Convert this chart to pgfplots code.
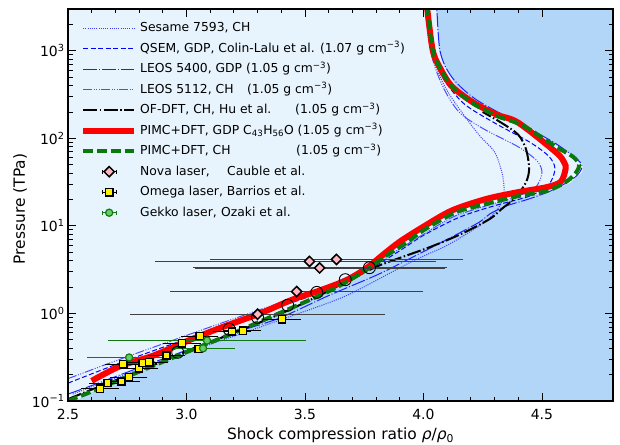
\documentclass[border=0pt]{standalone}
\usepackage{fontspec}
\setmainfont{DejaVu Sans}
\usepackage{pgfplots}
\pgfplotsset{compat=1.18}
\definecolor{lightbg}{RGB}{232,244,253}
\definecolor{darkbg}{RGB}{177,214,247}
\definecolor{pinkc}{RGB}{255,182,193}
\definecolor{gekkofill}{RGB}{102,204,102}
\definecolor{gekkoedge}{RGB}{17,120,17}
\definecolor{pimcgreen}{RGB}{10,120,10}
\definecolor{sesblue}{RGB}{64,64,255}
\definecolor{qsblue}{RGB}{0,0,255}
\definecolor{l54blue}{RGB}{32,32,255}
\definecolor{l51blue}{RGB}{77,77,255}
\pgfplotsset{
  lineleg/.style={legend image code/.code={\draw[##1] (0bp,0bp) -- (51bp,0bp); \path[draw=none,fill=none] (0bp,-3bp) rectangle (57bp,3bp);}},
  markleg/.style n args={4}{legend image code/.code={%
    \draw[#3, line width=1.1bp, solid] (19bp,0bp) -- (33bp,0bp);
    \draw[#3, line width=1.1bp, solid] (19bp,-2bp) -- (19bp,2bp);
    \draw[#3, line width=1.1bp, solid] (33bp,-2bp) -- (33bp,2bp);
    \path[#4] plot coordinates {(26bp,0bp)};
    \path[draw=none,fill=none] (0bp,-3bp) rectangle (57bp,3bp);}},
}
\begin{document}
\begin{tikzpicture}
\begin{axis}[
  scale only axis, width=545bp, height=392bp,
  xmin=2.5, xmax=4.8, ymode=log, ymin=0.1, ymax=3000,
  axis background/.style={fill=lightbg},
  axis on top,
  xtick={2.5,3.0,3.5,4.0,4.5}, xticklabels={2.5,3.0,3.5,4.0,4.5},
  minor x tick num=4,
  ytick={0.1,1,10,100,1000},
  yticklabels={10\textsuperscript{−1},10\textsuperscript{0},10\textsuperscript{1},10\textsuperscript{2},10\textsuperscript{3}},
  minor ytick={0.2,0.3,0.4,0.5,0.6,0.7,0.8,0.9,2,3,4,5,6,7,8,9,20,30,40,50,60,70,80,90,200,300,400,500,600,700,800,900,2000,3000},
  tick align=inside, major tick length=8bp, minor tick length=4.5bp,
  every tick/.style={black, line width=0.8bp},
  axis line style={line width=1.2bp},
  tick label style={font=\fontsize{14}{16}\selectfont},
  xticklabel style={yshift=-5bp},
  label style={font=\fontsize{15.5}{18}\selectfont},
  xlabel={Shock compression ratio \textit{ρ}/\textit{ρ}\textsubscript{0}},
  ylabel={Pressure (TPa)},
  xlabel style={at={(axis description cs:0.5,-0.097)}, anchor=base},
  ylabel style={at={(axis description cs:-0.088,0.49)}, anchor=center},
  legend style={draw=none, fill=none, at={(axis description cs:0,1)}, anchor=north west,
    xshift=12bp, yshift=-12.5bp, inner sep=0pt, column sep=0pt, row sep=7.5bp,
    font=\fontsize{12.4}{14}\selectfont,
    nodes={inner sep=0pt, text height=10bp, text depth=3bp}},
  legend cell align=left,
  lineleg,
]
% legend entries
\addlegendimage{sesblue, line width=1bp, dash pattern=on 1bp off 1.2bp}
\addlegendentry{Sesame 7593, CH}
\addlegendimage{qsblue, line width=1bp, dash pattern=on 5bp off 2.5bp}
\addlegendentry{QSEM, GDP, Colin-Lalu et al. (1.07 g cm\textsuperscript{−3})}
\addlegendimage{l54blue, line width=1bp, dash pattern=on 14bp off 2bp on 1bp off 2bp}
\addlegendentry{LEOS 5400, GDP (1.05 g cm\textsuperscript{−3})}
\addlegendimage{l51blue, line width=1bp, dash pattern=on 9bp off 1.5bp on 1bp off 1.5bp on 1bp off 1.5bp on 1bp off 1.5bp}
\addlegendentry{\makebox[107bp][l]{LEOS 5112, CH}(1.05 g cm\textsuperscript{−3})}
\addlegendimage{black, line width=2bp, dash pattern=on 14bp off 2.5bp on 1.5bp off 2.5bp}
\addlegendentry{\makebox[155bp][l]{OF-DFT, CH, Hu et al.}(1.05 g cm\textsuperscript{−3})}
\addlegendimage{red, line width=6bp}
\addlegendentry{PIMC+DFT, GDP C\textsubscript{43}H\textsubscript{56}O (1.05 g cm\textsuperscript{−3})}
\addlegendimage{pimcgreen, line width=4bp, dash pattern=on 10bp off 4bp}
\addlegendentry{\makebox[156bp][l]{PIMC+DFT, CH}(1.05 g cm\textsuperscript{−3})}
\addlegendimage{markleg={}{}{black}{mark=square*, mark size=3.6bp, mark options={rotate=45, fill=pinkc, draw=black, line width=1.5bp}}}
\addlegendentry{\makebox[87bp][l]{Nova laser,}Cauble et al.}
\addlegendimage{markleg={}{}{black}{mark=square*, mark size=3.6bp, mark options={fill=yellow, draw=black, line width=1.5bp}}}
\addlegendentry{Omega laser, Barrios et al.}
\addlegendimage{markleg={}{}{gekkoedge}{mark=*, mark size=3.6bp, mark options={fill=gekkofill, draw=gekkoedge, line width=1.2bp}}}
\addlegendentry{\makebox[81bp][l]{Gekko laser,}Ozaki et al.}

% dark background region
\addplot[draw=none, fill=darkbg, forget plot] coordinates {
(2.53,0.1) (2.62,0.135) (2.75,0.19) (2.9,0.28) (3.05,0.41) (3.2,0.6) (3.35,0.9) (3.5,1.35)
(3.62,1.9) (3.72,2.7) (3.80,3.7) (3.86,4.8) (3.93,6.2) (4.03,9.25) (4.15,14) (4.28,17.5)
(4.42,21.5) (4.54,24.5) (4.62,31) (4.67,41) (4.675,50) (4.64,62) (4.57,80) (4.44,140)
(4.32,180) (4.22,250) (4.14,390) (4.09,660) (4.065,1020) (4.055,3000) (4.8,3000) (4.8,0.1)} -- cycle;

% Sesame 7593
\addplot[forget plot, sesblue, line width=1bp, dash pattern=on 1bp off 1.2bp, smooth, tension=0.5] coordinates {
(2.52,0.12) (2.6,0.145) (2.8,0.23) (3.0,0.36) (3.2,0.55) (3.45,0.95) (3.675,1.6) (3.95,3.9)
(4.10,6) (4.235,10) (4.30,14) (4.335,20) (4.34,28) (4.33,42) (4.30,70) (4.24,105) (4.18,170)
(4.10,350) (4.05,700) (4.02,1500) (4.005,4000)};
% QSEM
\addplot[forget plot, qsblue, line width=1bp, dash pattern=on 5bp off 2.5bp, smooth, tension=0.5] coordinates {
(2.5,0.16) (2.7,0.26) (2.9,0.41) (3.1,0.63) (3.3,0.98) (3.5,1.5) (3.65,2.2) (3.78,3.3) (3.9,5.2)
(4.0,7.8) (4.15,12.5) (4.3,17) (4.45,22) (4.53,30) (4.555,45) (4.53,62) (4.45,90) (4.30,150)
(4.17,250) (4.08,500) (4.04,1000) (4.02,4000)};
% LEOS 5400
\addplot[forget plot, l54blue, line width=1bp, dash pattern=on 14bp off 2bp on 1bp off 2bp, smooth, tension=0.5] coordinates {
(2.5,0.12) (2.6,0.15) (2.8,0.24) (3.0,0.38) (3.2,0.6) (3.39,0.88) (3.6,1.6) (3.81,2.8) (3.94,4.2)
(4.1,7) (4.235,11) (4.28,13.7) (4.35,16.9) (4.45,20.5) (4.55,26) (4.64,36) (4.67,48) (4.64,60)
(4.55,90) (4.40,150) (4.22,280) (4.12,500) (4.07,1000) (4.055,4000)};
% LEOS 5112
\addplot[forget plot, l51blue, line width=1bp, dash pattern=on 9bp off 1.5bp on 1bp off 1.5bp on 1bp off 1.5bp on 1bp off 1.5bp, smooth, tension=0.5] coordinates {
(2.5,0.18) (2.72,0.30) (2.93,0.48) (3.1,0.7) (3.3,1.08) (3.5,1.65) (3.65,2.4) (3.78,3.6) (3.9,5.5)
(4.0,8) (4.12,12.5) (4.25,16.5) (4.38,21) (4.47,27) (4.50,40) (4.48,55) (4.40,80) (4.25,130)
(4.15,200) (4.08,400) (4.03,1000) (4.01,4000)};
% OF-DFT
\addplot[forget plot, black, line width=2bp, dash pattern=on 14bp off 2.5bp on 1.5bp off 2.5bp, smooth, tension=0.5] coordinates {
(2.5,0.105) (2.6,0.135) (2.8,0.22) (3.0,0.37) (3.2,0.6) (3.4,1.0) (3.56,1.6) (3.7,2.5) (3.81,3.5)
(3.93,4.6) (4.04,5.9) (4.164,8.2) (4.28,12) (4.33,15.6) (4.39,21.3) (4.433,31.6) (4.446,45)
(4.433,75) (4.40,110) (4.33,150) (4.25,200)};
% PIMC+DFT GDP
\addplot[forget plot, red, line width=6bp, smooth, tension=0.5] coordinates {
(2.60,0.17) (2.72,0.25) (2.86,0.33) (3.0,0.48) (3.14,0.68) (3.31,1.0) (3.45,1.45) (3.56,1.82)
(3.675,2.4) (3.76,3.3) (3.83,4.7) (3.90,6.6) (4.0,9.8) (4.12,15) (4.265,20.3) (4.40,24.3)
(4.52,27.7) (4.58,32) (4.60,45) (4.594,53) (4.56,69) (4.40,151) (4.31,186) (4.21,257)
(4.12,393) (4.067,660) (4.039,1020) (4.016,3000) (4.012,4000)};
% PIMC+DFT CH
\addplot[forget plot, pimcgreen, line width=4bp, dash pattern=on 10bp off 4bp, smooth, tension=0.5] coordinates {
(2.5,0.1) (2.62,0.135) (2.75,0.19) (2.9,0.28) (3.05,0.41) (3.2,0.6) (3.35,0.9) (3.5,1.35)
(3.62,1.9) (3.72,2.7) (3.79,3.6) (3.85,4.7) (3.92,6.2) (4.01,9.25) (4.14,14.4) (4.265,17.8)
(4.40,21.9) (4.52,25) (4.60,31.6) (4.645,41) (4.657,50) (4.63,62) (4.56,80) (4.42,140)
(4.31,180) (4.21,250) (4.12,390) (4.067,660) (4.039,1020) (4.016,3000) (4.012,4000)};

% open circles
\addplot[forget plot, only marks, mark=o, mark size=6bp, black, line width=0.9bp] coordinates {
(3.772,3.33) (3.67,2.43) (3.55,1.74) (3.427,1.24) (3.30,0.90) (3.18,0.66) (2.963,0.36)};

% Nova
\addplot[forget plot, only marks, mark=square*, mark size=3.6bp,
  mark options={rotate=45, fill=pinkc, draw=black, line width=1.5bp},
  error bars/.cd, x dir=both, x explicit,
  error bar style={line width=1.3bp, black!75},
  error mark options={line width=1bp, mark size=2bp, black!75}] coordinates {
(3.519,3.93) += (0.527,0) -= (0.644,0)
(3.633,4.14) +- (0.527,0)
(3.562,3.31) +- (0.527,0)
(3.465,1.78) +- (0.525,0)
(3.30,0.98) +- (0.53,0)};

% Omega
\addplot[forget plot, only marks, mark=square*, mark size=3.6bp,
  mark options={fill=yellow, draw=black, line width=1.5bp},
  error bars/.cd, x dir=both, x explicit,
  error bar style={line width=1bp, black},
  error mark options={line width=1bp, mark size=2bp, black}] coordinates {
(2.635,0.138) +- (0.07,0)
(2.667,0.160) +- (0.07,0)
(2.726,0.167) +- (0.07,0)
(2.757,0.187) +- (0.07,0)
(2.733,0.263) +- (0.07,0)
(2.80,0.237) +- (0.07,0)
(2.815,0.272) +- (0.07,0)
(2.843,0.277) +- (0.07,0)
(2.916,0.331) +- (0.07,0)
(2.981,0.456) +- (0.07,0)
(3.052,0.394) +- (0.067,0)
(3.056,0.552) +- (0.07,0)
(3.192,0.624) +- (0.07,0)
(3.238,0.635) +- (0.07,0)
(3.403,0.86) +- (0.07,0)};

% Gekko
\addplot[forget plot, only marks, mark=*, mark size=3.6bp,
  mark options={fill=gekkofill, draw=gekkoedge, line width=1.2bp},
  error bars/.cd, x dir=both, x explicit,
  error bar style={line width=1bp, gekkoedge},
  error mark options={line width=1bp, mark size=2bp, gekkoedge}] coordinates {
(3.087,0.49) +- (0.41,0)
(3.07,0.40) +- (0.126,0)
(2.758,0.314) +- (0.17,0)};
\end{axis}
\pgfresetboundingbox
\path (current axis.south west) ++(-68bp,-44bp) rectangle ++(620bp,445bp);
\end{tikzpicture}
\end{document}
